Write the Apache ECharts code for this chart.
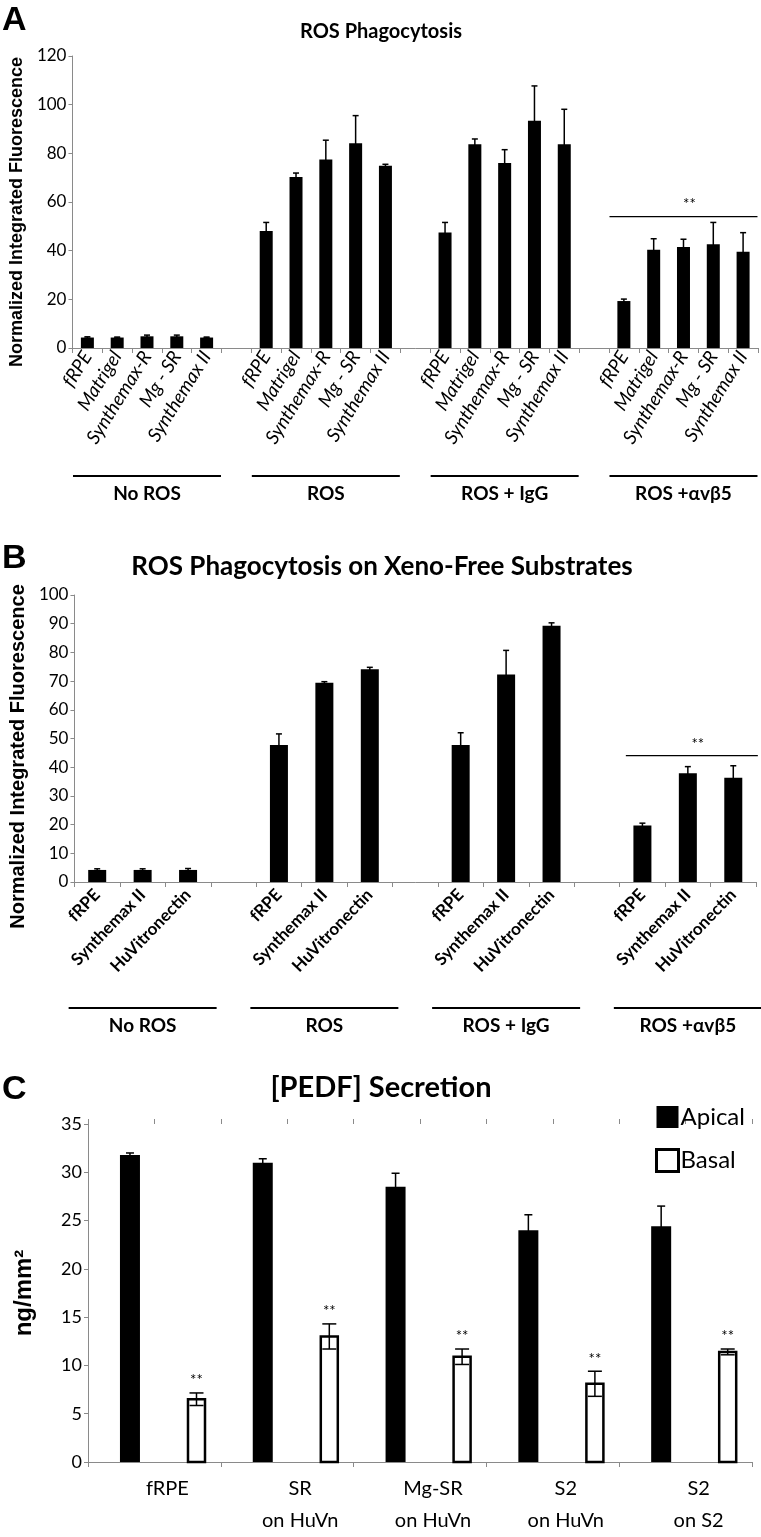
<!DOCTYPE html>
<html><head><meta charset="utf-8">
<script src="https://cdn.jsdelivr.net/npm/echarts@6/dist/echarts.min.js"></script>
<style>html,body{margin:0;padding:0;background:#fff}#c{width:761px;height:1537px}</style>
</head><body><div id="c"></div>
<script>
// ---------- Panel A data ----------
const aSubstrates = ['fRPE', 'Matrigel', 'Synthemax-R', 'Mg - SR', 'Synthemax II'];
const aGroups = ['No ROS', 'ROS', 'ROS + IgG', 'ROS +\u03b1v\u03b25'];
const aNoRos = [4.3, 4.3, 4.8, 4.8, 4.3];
const aNoRosErr = [0.3, 0.2, 0.5, 0.5, 0.2];
const aRos = [48.1, 70.3, 77.5, 84.1, 74.9];
const aRosErr = [3.5, 1.6, 7.9, 11.4, 0.6];
const aIgg = [47.5, 83.7, 76.0, 93.4, 83.7];
const aIggErr = [4.1, 2.2, 5.5, 14.3, 14.4];
const aAvb5 = [19.3, 40.4, 41.5, 42.6, 39.6];
const aAvb5Err = [0.8, 4.5, 3.2, 9.0, 7.8];
const aSigLevel = 54;
// ---------- Panel B data ----------
const bSubstrates = ['fRPE', 'Synthemax II', 'HuVitronectin'];
const bGroups = ['No ROS', 'ROS', 'ROS + IgG', 'ROS +\u03b1v\u03b25'];
const bNoRos = [4.2, 4.2, 4.2];
const bNoRosErr = [0.4, 0.4, 0.5];
const bRos = [47.7, 69.4, 74.1];
const bRosErr = [3.9, 0.4, 0.7];
const bIgg = [47.7, 72.3, 89.3];
const bIggErr = [4.3, 8.4, 1.0];
const bAvb5 = [19.7, 37.9, 36.3];
const bAvb5Err = [0.8, 2.3, 4.2];
const bSigLevel = 44;
// ---------- Panel C data ----------
const cCategories = ['fRPE', 'SR\non HuVn', 'Mg-SR\non HuVn', 'S2\non HuVn', 'S2\non S2'];
const cApical = [31.8, 31.0, 28.5, 24.0, 24.4];
const cApicalErr = [0.2, 0.4, 1.4, 1.6, 2.1];
const cBasal = [6.5, 13.0, 10.9, 8.1, 11.4];
const cBasalErr = [0.65, 1.3, 0.8, 1.3, 0.3];

// ---------- helpers ----------
function buildCats(groups, subs) {
  const cats = [];
  groups.forEach((g, gi) => { if (gi) cats.push(''); subs.forEach(s => cats.push(s)); });
  return cats;
}
function buildBars(cats, groupVals, n) {
  const arr = cats.map(() => '-');
  groupVals.forEach((vals, gi) => vals.forEach((v, si) => { arr[gi * (n + 1) + si] = v; }));
  return arr;
}
function buildErr(groupVals, groupErrs, n) {
  const out = [];
  groupVals.forEach((vals, gi) => vals.forEach((v, si) => out.push([gi * (n + 1) + si, v, groupErrs[gi][si]])));
  return out;
}
function makeErr(cap, shift, lw, stars) {
  return function (params, api) {
    const i = api.value(0), v = api.value(1), e = api.value(2);
    const band = api.size([1, 0])[0];
    const x = api.coord([i, v])[0] + shift * band;
    const yHi = api.coord([i, v + e])[1], yLo = api.coord([i, v - e])[1];
    const st = { stroke: '#000', lineWidth: lw };
    const ch = [
      { type: 'line', shape: { x1: x, y1: yHi, x2: x, y2: yLo }, style: st },
      { type: 'line', shape: { x1: x - cap, y1: yHi, x2: x + cap, y2: yHi }, style: st },
      { type: 'line', shape: { x1: x - cap, y1: yLo, x2: x + cap, y2: yLo }, style: st }
    ];
    if (stars) ch.push({ type: 'text', style: { text: '**', x: x, y: yHi - 5, align: 'center', verticalAlign: 'bottom', fontSize: 15, fontFamily: 'Lato', fill: '#000' } });
    return { type: 'group', children: ch };
  };
}
function makeBar(shift, width, fill, lw) {
  return function (params, api) {
    const i = api.value(0), v = api.value(1);
    const band = api.size([1, 0])[0];
    const p = api.coord([i, v]), p0 = api.coord([i, 0]);
    const x = p[0] + shift * band;
    return { type: 'rect', shape: { x: x - width / 2, y: p[1], width: width, height: p0[1] - p[1] },
      style: { fill: fill, stroke: lw ? '#000' : null, lineWidth: lw || 0 } };
  };
}

const aCats = buildCats(aGroups, aSubstrates);
const bCats = buildCats(bGroups, bSubstrates);
const aN = aSubstrates.length, bN = bSubstrates.length;
const aBars = buildBars(aCats, [aNoRos, aRos, aIgg, aAvb5], aN);
const bBars = buildBars(bCats, [bNoRos, bRos, bIgg, bAvb5], bN);
const aErrData = buildErr([aNoRos, aRos, aIgg, aAvb5], [aNoRosErr, aRosErr, aIggErr, aAvb5Err], aN);
const bErrData = buildErr([bNoRos, bRos, bIgg, bAvb5], [bNoRosErr, bRosErr, bIggErr, bAvb5Err], bN);
const cApData = cApical.map((v, i) => [i, v, cApicalErr[i]]);
const cBaData = cBasal.map((v, i) => [i, v, cBasalErr[i]]);

const gray = '#8a8a8a';
function yAx(gi, max, interval, name, nameSize, nameGap, namePadR, labelSize) {
  return {
    type: 'value', gridIndex: gi, min: 0, max: max, interval: interval,
    axisLine: { show: true, lineStyle: { color: gray, width: 1 } },
    axisTick: { show: true, length: 4, lineStyle: { color: gray } },
    splitLine: { show: false },
    axisLabel: { color: '#000', fontFamily: 'Lato', fontSize: labelSize, margin: 6 },
    name: name, nameLocation: 'middle', nameGap: nameGap,
    nameTextStyle: { color: '#000', fontFamily: 'Liberation Sans, Arial', fontWeight: 'bold', fontSize: nameSize, padding: [0, namePadR, 0, 0] }
  };
}

const chart = echarts.init(document.getElementById('c'), null, { width: 761, height: 1537 });
const option = {
  backgroundColor: '#fff',
  animation: false,
  grid: [
    { left: 67, top: 56, width: 691, height: 292 },
    { left: 69, top: 595, width: 687, height: 287 },
    { left: 88, top: 1124, width: 664, height: 344 }
  ],
  xAxis: [
    { type: 'category', gridIndex: 0, data: aCats, boundaryGap: true,
      axisLine: { lineStyle: { color: gray } },
      axisTick: { show: true, interval: 0, length: 5, lineStyle: { color: gray } },
      axisLabel: { interval: 0, rotate: 58, fontSize: 19, fontStyle: 'italic', color: '#000', fontFamily: 'Lato', margin: 5 } },
    { type: 'category', gridIndex: 1, data: bCats, boundaryGap: true,
      axisLine: { lineStyle: { color: gray } },
      axisTick: { show: true, interval: 0, length: 5, lineStyle: { color: gray } },
      axisLabel: { interval: 0, rotate: 46, fontSize: 17, fontWeight: 'bold', color: '#000', fontFamily: 'Lato', margin: 10 } },
    { type: 'category', gridIndex: 2, data: cCategories, boundaryGap: true,
      axisLine: { lineStyle: { color: gray } },
      axisTick: { show: true, interval: 0, length: 5, lineStyle: { color: gray } },
      axisLabel: { interval: 0, fontSize: 20, lineHeight: 32, color: '#000', fontFamily: 'Lato', margin: 11, padding: [0, 0, 0, 26] } },
    { type: 'category', gridIndex: 2, data: cCategories.concat(cCategories).map(() => ''), boundaryGap: true,
      axisLine: { show: false }, axisLabel: { show: false },
      axisTick: { show: true, interval: 0, length: 5, lineStyle: { color: gray } } }
  ],
  yAxis: [
    yAx(0, 120, 20, 'Normalized Integrated Fluorescence', 18, 46, 20, 17),
    yAx(1, 100, 10, 'Normalized Integrated Fluorescence', 20, 46, 36, 17),
    yAx(2, 35, 5, 'ng/mm\u00b2', 24, 52, 0, 18)
  ],
  legend: {
    left: 650, top: 1100, orient: 'vertical', itemWidth: 22, itemHeight: 22, itemGap: 19,
    textStyle: { fontSize: 24, fontFamily: 'Lato', color: '#000', padding: [0, 0, 0, -3] },
    data: [
      { name: 'Apical', icon: 'rect', itemStyle: { color: '#000', borderWidth: 0 } },
      { name: 'Basal', icon: 'rect', itemStyle: { color: '#fff', borderColor: '#000', borderWidth: 3 } }
    ]
  },
  series: [
    { type: 'bar', xAxisIndex: 0, yAxisIndex: 0, data: aBars, barWidth: 13, itemStyle: { color: '#000' } },
    { type: 'custom', xAxisIndex: 0, yAxisIndex: 0, data: aErrData, renderItem: makeErr(3, 0, 1.5, false), encode: { x: 0, y: 1 }, z: 5 },
    { type: 'bar', xAxisIndex: 1, yAxisIndex: 1, data: bBars, barWidth: 18, itemStyle: { color: '#000' } },
    { type: 'custom', xAxisIndex: 1, yAxisIndex: 1, data: bErrData, renderItem: makeErr(3, 0, 1.5, false), encode: { x: 0, y: 1 }, z: 5 },
    { name: 'Apical', type: 'custom', xAxisIndex: 2, yAxisIndex: 2, data: cApData, renderItem: makeBar(-0.184, 20, '#000', 0), encode: { x: 0, y: 1 }, itemStyle: { color: '#000' } },
    { name: 'Basal', type: 'custom', xAxisIndex: 2, yAxisIndex: 2, data: cBaData, renderItem: makeBar(0.317, 17, '#fff', 2.5), encode: { x: 0, y: 1 }, itemStyle: { color: '#fff', borderColor: '#000' } },
    { type: 'custom', xAxisIndex: 2, yAxisIndex: 2, data: cApData, renderItem: makeErr(4, -0.184, 1.5, false), encode: { x: 0, y: 1 }, z: 5 },
    { type: 'custom', xAxisIndex: 2, yAxisIndex: 2, data: cBaData, renderItem: makeErr(7, 0.317, 1.5, true), encode: { x: 0, y: 1 }, z: 5 }
  ]
};
chart.setOption(option);

// ---------- annotations computed from the axes ----------
const g = [];
function text(t, x, y, size, weight, family, align) {
  g.push({ type: 'text', x: x, y: y, style: { text: t, fontSize: size, fontWeight: weight || 'normal', fontFamily: family || 'Lato', fill: '#000', align: align || 'center', verticalAlign: 'middle' } });
}
function hline(x1, x2, y, w) {
  g.push({ type: 'line', shape: { x1: x1, y1: y, x2: x2, y2: y }, style: { stroke: '#000', lineWidth: w } });
}
text('A', 2, 21, 34, 'bold', 'Liberation Sans', 'left');
text('B', 2, 559, 34, 'bold', 'Liberation Sans', 'left');
text('C', 2, 1090, 34, 'bold', 'Liberation Sans', 'left');
text('ROS Phagocytosis', 381, 32, 20, 'bold');
text('ROS Phagocytosis on Xeno-Free Substrates', 382, 567, 26, 'bold');
text('[PEDF] Secretion', 381, 1088, 29, 'bold');

function groupDecor(xi, yi, groups, n, lineY, labelY, sigLevel, sigL, sigR) {
  groups.forEach((name, gi) => {
    const cx = chart.convertToPixel({ xAxisIndex: xi }, gi * (n + 1) + (n - 1) / 2);
    hline(cx - 74, cx + 74, lineY, 2);
    text(name, cx, labelY, 19, 'bold');
    if (gi === groups.length - 1) {
      const y = chart.convertToPixel({ yAxisIndex: yi }, sigLevel);
      hline(cx - sigL, cx + sigR, y, 1.3);
      text('**', (cx - sigL + cx + sigR) / 2 + 6, y - 12, 15, 'normal');
    }
  });
}
groupDecor(0, 0, aGroups, aN, 476, 494, aSigLevel, 74, 74);
groupDecor(1, 1, bGroups, bN, 1008, 1026, bSigLevel, 62, 70);
chart.setOption({ graphic: g });
</script></body></html>
